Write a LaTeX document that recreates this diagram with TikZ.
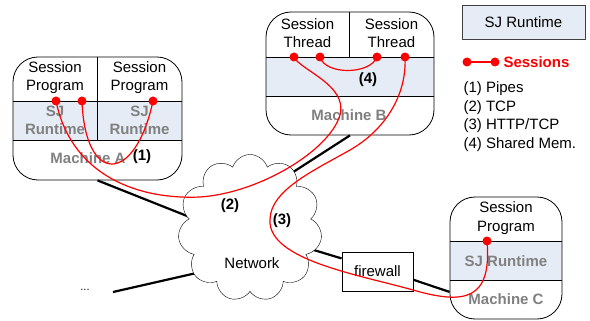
\documentclass[tikz,border=0pt]{standalone}
\usepackage{fontspec}
\setmainfont{Liberation Sans}
\usetikzlibrary{shapes.symbols,backgrounds}

\definecolor{rtblue}{HTML}{E6ECF6}
\definecolor{labelgray}{HTML}{808080}

\tikzset{
  machine/.style={draw, line width=0.8pt, rounded corners=25pt, inner sep=0pt},
  txt/.style={align=center, font=\fontsize{15}{18.5}\selectfont},
  graylabel/.style={align=center, font=\fontsize{15}{18.5}\selectfont\bfseries, text=labelgray},
  num/.style={font=\fontsize{15}{18}\selectfont\bfseries},
  session/.style={red, line width=1.2pt},
  link/.style={line width=2.2pt, shorten >=-10pt},
}

\begin{document}
\begin{tikzpicture}[x=1pt,y=-1pt]
\useasboundingbox (0,0) rectangle (590,321);

% runtime bands
\fill[rtblue] (13,101) rectangle (182,140);
\fill[rtblue] (266,57) rectangle (434,96);
\fill[rtblue] (450,241) rectangle (562,280);

% machines
\node[machine, minimum width=169pt, minimum height=123pt] (mA) at (97.5,118.5) {};
\node[machine, minimum width=168pt, minimum height=123pt] (mB) at (350,73.5) {};
\node[machine, minimum width=112pt, minimum height=122pt] (mC) at (506,258) {};

\draw[line width=0.8pt] (13,101) -- (182,101) (13,140) -- (182,140) (97,57) -- (97,140);
\draw[line width=0.8pt] (266,57) -- (434,57) (266,96) -- (434,96) (349,12) -- (349,57);
\draw[line width=0.8pt] (450,241) -- (562,241) (450,280) -- (562,280);

% machine A
\node[txt] (progA1) at (55,77.5) {Session\\Program};
\node[txt] (progA2) at (139.5,77.5) {Session\\Program};
\node[graylabel] (rtA1) at (55,120.5) {SJ\\Runtime};
\node[graylabel] (rtA2) at (139.5,120.5) {SJ\\Runtime};
\node[graylabel] (nameA) at (88,158) {Machine A};
\node[num] (n1) at (142,157) {(1)};

% machine B
\node[txt] (thrB1) at (307.5,33) {Session\\Thread};
\node[txt] (thrB2) at (391.5,33) {Session\\Thread};
\node[graylabel] (nameB) at (349,115) {Machine B};
\node[num] (n4) at (368,80) {(4)};

% machine C
\node[txt] (progC) at (506,218) {Session\\Program};
\node[graylabel] (rtC) at (506,261) {SJ Runtime};
\node[graylabel] (nameC) at (506,299) {Machine C};

% network
\node[cloud, draw, fill=white, cloud puffs=11, cloud puff arc=145, cloud ignores aspect, minimum width=144pt, minimum height=147pt, inner sep=0pt] (net) at (250,228) {};
\node[txt] (netlbl) at (252,263) {Network};
\node[num] (n2) at (230,206) {(2)};
\node[num] (n3) at (282,221) {(3)};

\node[draw, fill=white, line width=0.8pt, minimum width=71pt, minimum height=39pt, txt] (fw) at (377.5,271.5) {firewall};

\coordinate (lan) at (113,292);
\node[font=\fontsize{11}{12}\selectfont] (more) at (85,290) {...};

\begin{scope}[on background layer]
\draw[link] (mA.south) -- (net.169);
\draw[link] (mB.south) -- (net.52);
\draw[link] (lan) -- (net.219);
\draw[link] (fw.160) -- (net.-19);
\draw[link, shorten >=0pt] (fw.-13) -- (mC.-149);
\end{scope}

% sessions
\coordinate (a1) at (56,101);
\coordinate (a2) at (82,101);
\coordinate (a3) at (153,101);
\coordinate (b1) at (294,57);
\coordinate (b2) at (320,57);
\coordinate (b3) at (377,57);
\coordinate (b4) at (405,57);
\coordinate (c1) at (487,241);

\draw[session] (a2) .. controls (85,185) and (135,185) .. (a3);
\draw[session] (a1) .. controls (70,170) and (130,200) .. (200,197)
  .. controls (260,193) and (330,150) .. (340,115)
  .. controls (348,85) and (300,70) .. (b1);
\draw[session] (b2) .. controls (325,75) and (370,75) .. (b3);
\draw[session] (b4) .. controls (407,95) and (385,130) .. (350,150)
  .. controls (315,170) and (270,190) .. (270,220)
  .. controls (268,260) and (360,275) .. (413,290)
  .. controls (465,305) and (492,300) .. (c1);

% legend
\node[draw=black!75, fill=rtblue, line width=0.8pt, minimum width=123pt, minimum height=34pt, txt] (lgRt) at (523.5,22) {SJ Runtime};
\coordinate (lgS1) at (467,62);
\coordinate (lgS2) at (495,62);
\draw[session] (lgS1) -- (lgS2);
\node[anchor=west, text=red, font=\fontsize{15}{18}\selectfont\bfseries] (lgSess) at (500,62) {Sessions};
\node[txt, align=left, anchor=west] (lgList) at (460,116.5) {(1) Pipes\\(2) TCP\\(3) HTTP/TCP\\(4) Shared Mem.};

\foreach \d in {a1,a2,a3,b1,b2,b3,b4,c1,lgS1,lgS2}
  \fill[red] (\d) circle (4.5pt);
\end{tikzpicture}
\end{document}
